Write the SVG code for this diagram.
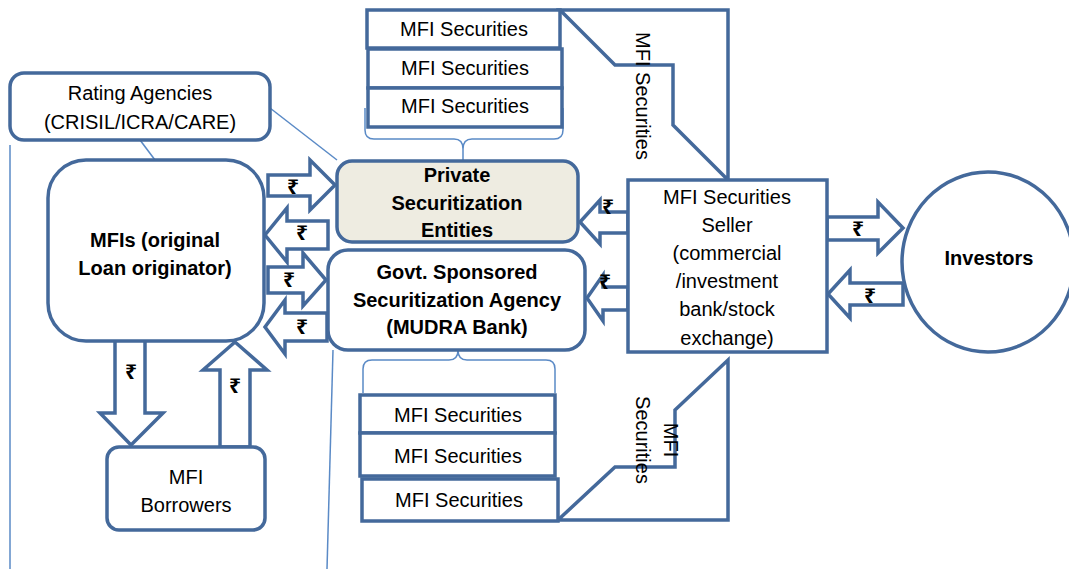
<svg xmlns="http://www.w3.org/2000/svg" width="1069" height="569" viewBox="0 0 1069 569">
<defs>
<style>
.box{fill:#ffffff;stroke:#44699b;stroke-width:3.5}
.arr{fill:#ffffff;stroke:#44699b;stroke-width:3.5;stroke-linejoin:miter}
.thin{fill:none;stroke:#5a8ac6;stroke-width:1.5}
.zig{fill:none;stroke:#44699b;stroke-width:3.5;stroke-linejoin:miter}
.t{font-family:"Liberation Sans",Arial,sans-serif;font-size:20px;fill:#000;text-anchor:middle}
.b{font-weight:bold}
.r{font-family:"Noto Sans","DejaVu Sans",sans-serif;font-size:21px;font-weight:bold;fill:#000;text-anchor:middle;dominant-baseline:central}
</style>
</defs>
<rect width="1069" height="569" fill="#ffffff"/>

<g id="connectors">
<line class="thin" x1="270" y1="108" x2="337" y2="160"/>
<line class="thin" x1="140" y1="140" x2="155" y2="160"/>
<line class="thin" x1="10" y1="145" x2="10" y2="569"/>
<line class="thin" x1="333" y1="350" x2="327" y2="569"/>
<path class="thin" d="M365,108 L365,130 Q365,139 374,139 L454,139 Q463,139 463,149 L463,163 M463,149 Q463,139 472,139 L554,139 Q563,139 563,130 L563,108"/>
<path class="thin" d="M363,393 L363,369 Q363,360 372,360 L449,360 Q458,360 458,350 L458,345 M458,350 Q458,360 467,360 L546,360 Q555,360 555,369 L555,393"/>
<polygon class="zig" points="560,10 728,10 728,180 673,125 673,65 615,65"/>
<polygon class="zig" points="558,520 728,520 728,360 675,410 675,467 615,467"/>
<polygon class="arr" points="268,175 310,175 310,160 335,185 310,210 310,196 268,196"/>
<polygon class="arr" points="328,221 287,221 287,208 265,235 287,262 287,249 328,249"/>
<polygon class="arr" points="268,267 303,267 303,253 326,280 303,306 303,293 268,293"/>
<polygon class="arr" points="327,313 285,313 285,300 265,327 285,354 285,341 327,341"/>
<polygon class="arr" points="628,212 600,212 600,200 580,222 600,244 600,233 628,233"/>
<polygon class="arr" points="628,287 603,287 603,275 587,298 603,321 603,310 628,310"/>
<polygon class="arr" points="827,217 878,217 878,202 903,228 878,253 878,240 827,240"/>
<polygon class="arr" points="903,283 850,283 850,270 828,294 850,318 850,305 903,305"/>
<polygon class="arr" points="115,340 145,340 145,413 163,413 131,445 100,413 115,413"/>
<polygon class="arr" points="220,447 250,447 250,370 267,370 235,342 203,370 220,370"/>
<text class="r" x="293" y="186">₹</text>
<text class="r" x="302" y="232">₹</text>
<text class="r" x="289" y="279">₹</text>
<text class="r" x="302" y="326">₹</text>
<text class="r" x="608" y="206">₹</text>
<text class="r" x="605" y="281">₹</text>
<text class="r" x="858" y="228">₹</text>
<text class="r" x="870" y="295">₹</text>
<text class="r" x="131" y="371">₹</text>
<text class="r" x="235" y="385">₹</text>
<text class="t" transform="rotate(90 643 96)" x="643" y="96" dominant-baseline="central">MFI Securities</text>
<text class="t" transform="rotate(90 671 440)" x="671" y="440" dominant-baseline="central">MFI</text>
<text class="t" transform="rotate(90 643 440)" x="643" y="440" dominant-baseline="central">Securities</text>
</g>

<g id="rating">
<rect class="box" x="10" y="73" width="260" height="67" rx="14"/>
<text class="t" x="140" y="100">Rating Agencies</text>
<text class="t" x="140" y="129">(CRISIL/ICRA/CARE)</text>
</g>

<g id="mfis">
<rect class="box" x="48" y="160" width="216" height="181" rx="38"/>
<text class="t b" x="155" y="247">MFIs (original</text>
<text class="t b" x="155" y="275">Loan originator)</text>
</g>

<g id="borrowers">
<rect class="box" x="107" y="447" width="158" height="83" rx="12"/>
<text class="t" x="186" y="484">MFI</text>
<text class="t" x="186" y="512">Borrowers</text>
</g>

<g id="private">
<rect class="box" x="337" y="161" width="241" height="81" rx="15" style="fill:#eeece1"/>
<text class="t b" x="457" y="182">Private</text>
<text class="t b" x="457" y="210">Securitization</text>
<text class="t b" x="457" y="237">Entities</text>
</g>

<g id="govt">
<rect class="box" x="328" y="250" width="257" height="100" rx="20"/>
<text class="t b" x="457" y="279">Govt. Sponsored</text>
<text class="t b" x="457" y="307">Securitization Agency</text>
<text class="t b" x="457" y="334">(MUDRA Bank)</text>
</g>

<g id="top-securities">
<rect class="box" x="367" y="10" width="193" height="38"/>
<rect class="box" x="368" y="49" width="194" height="39"/>
<rect class="box" x="368" y="88" width="194" height="39"/>
<text class="t" x="464" y="36">MFI Securities</text>
<text class="t" x="465" y="75">MFI Securities</text>
<text class="t" x="465" y="113">MFI Securities</text>
</g>

<g id="bottom-securities">
<rect class="box" x="360" y="395" width="195" height="38"/>
<rect class="box" x="360" y="433" width="195" height="43"/>
<rect class="box" x="362" y="479" width="196" height="42"/>
<text class="t" x="458" y="422">MFI Securities</text>
<text class="t" x="458" y="463">MFI Securities</text>
<text class="t" x="459" y="507">MFI Securities</text>
</g>

<g id="seller">
<rect class="box" x="628" y="180" width="199" height="172"/>
<text class="t" x="727" y="204">MFI Securities</text>
<text class="t" x="727" y="232">Seller</text>
<text class="t" x="727" y="260">(commercial</text>
<text class="t" x="727" y="288">/investment</text>
<text class="t" x="727" y="316">bank/stock</text>
<text class="t" x="727" y="345">exchange)</text>
</g>

<g id="investors">
<ellipse class="box" cx="988" cy="262" rx="86" ry="90"/>
<text class="t b" x="989" y="265">Investors</text>
</g>
</svg>
